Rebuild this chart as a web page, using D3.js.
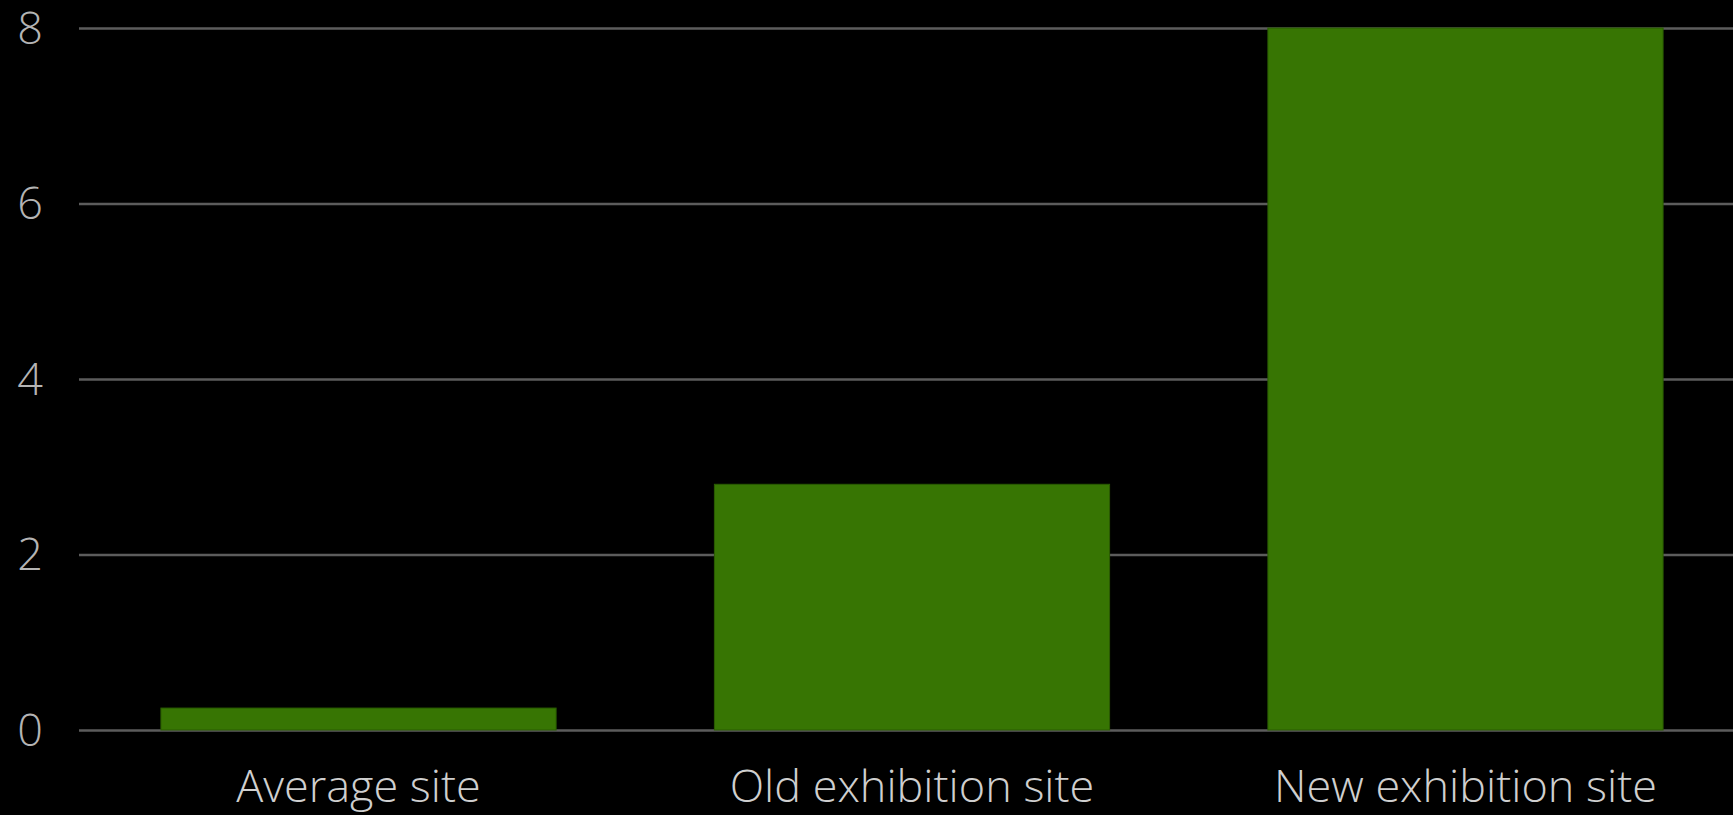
<!DOCTYPE html>
<html lang="en">
<head>
    <meta charset="UTF-8">
    <title>Exhibition sites</title>
    <script src="https://d3js.org/d3.v7.min.js"></script>
    <style>
        html, body {
            margin: 0;
            padding: 0;
            background: #000;
            overflow: hidden;
        }
        svg {
            display: block;
        }
        .tick text {
            font-family: "Open Sans", Lato, sans-serif;
            font-weight: 300;
        }
    </style>
</head>
<body>
    <svg id="chart" width="1733" height="815"></svg>

    <script>
        const categories = ["Average site", "Old exhibition site", "New exhibition site"];
        const values = [0.25, 2.8, 8];
        const yTicks = [0, 2, 4, 6, 8];

        const svg = d3.select("#chart"),
            margin = {top: 28, right: 0, bottom: 85, left: 79},
            width = +svg.attr("width") - margin.left - margin.right,
            height = +svg.attr("height") - margin.top - margin.bottom,
            g = svg.append("g").attr("transform", `translate(${margin.left},${margin.top})`);

        svg.insert("rect", ":first-child")
            .attr("width", +svg.attr("width"))
            .attr("height", +svg.attr("height"))
            .attr("fill", "#000");

        const x = d3.scaleBand()
            .domain(categories)
            .range([0, 1666])
            .paddingInner(0.286)
            .paddingOuter(0.148);

        const y = d3.scaleLinear()
            .domain([0, 8])
            .range([height, 0]);

        // gridlines + y labels
        const yAxis = g.append("g")
            .call(d3.axisLeft(y).tickValues(yTicks).tickSize(-width).tickPadding(36));
        yAxis.select(".domain").remove();
        yAxis.selectAll(".tick line")
            .attr("stroke", "#5c5c5c")
            .attr("stroke-width", 2.5);
        yAxis.selectAll(".tick text")
            .attr("fill", "#b4b4b4")
            .style("font-size", "45px")
            .attr("dy", "0.34em");

        // bars
        g.append("g")
            .selectAll("rect")
            .data(categories)
            .enter().append("rect")
            .attr("x", d => x(d))
            .attr("y", (d, i) => y(values[i]))
            .attr("width", x.bandwidth())
            .attr("height", (d, i) => y(0) - y(values[i]))
            .attr("fill", "#377503")
            .attr("stroke", "#2a5c02")
            .attr("stroke-width", 1);

        // category labels (kept just above the bottom edge so descenders fit)
        const xAxis = g.append("g")
            .attr("transform", `translate(0,${height})`)
            .call(d3.axisBottom(x).tickSize(0).tickPadding(40));
        xAxis.select(".domain").remove();
        xAxis.selectAll(".tick text")
            .attr("fill", "#cfcfcf")
            .style("font-size", "45px");
    </script>
</body>
</html>
